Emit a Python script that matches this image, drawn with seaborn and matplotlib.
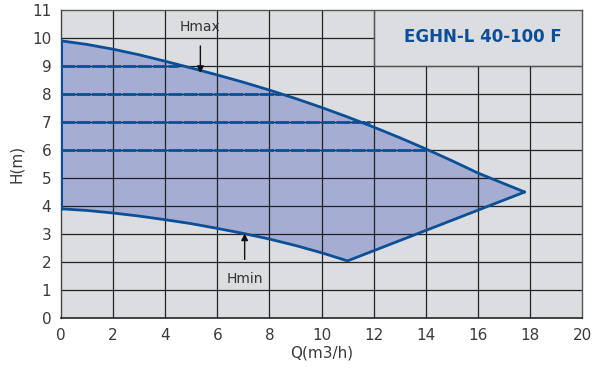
import numpy as np
import pandas as pd
import matplotlib
matplotlib.use("Agg")
import matplotlib.pyplot as plt
import seaborn as sns

# Data
hmax_q = [0, 1, 2, 3, 4, 5, 6, 7, 8, 9, 10, 11, 12, 13, 14, 15, 16, 17, 17.8]
hmax_h = [9.9, 9.77, 9.6, 9.4, 9.17, 8.93, 8.68, 8.42, 8.14, 7.84, 7.52, 7.18, 6.82, 6.44, 6.04, 5.62, 5.18, 4.8, 4.5]
hmin_q = [0, 1, 2, 3, 4, 5, 6, 7, 8, 9, 10, 11, 17.8]
hmin_h = [3.9, 3.84, 3.75, 3.64, 3.51, 3.37, 3.2, 3.02, 2.82, 2.59, 2.33, 2.04, 4.5]
speed_h = [9, 8, 7, 6]
speed_qend = [4.5, 8.45, 11.85, 14.05]
x_ticks = [0, 2, 4, 6, 8, 10, 12, 14, 16, 18, 20]
y_ticks = [0, 1, 2, 3, 4, 5, 6, 7, 8, 9, 10, 11]
title = "EGHN-L 40-100 F"

sns.set_theme(style="white")
plt.rcParams['font.family'] = ['DejaVu Sans']

blue = "#0b4f96"
fill = "#a6add3"
bg = "#dcdde0"
tick_col = "#3a3a3a"

fig = plt.figure(figsize=(5.93, 3.76), dpi=100)
ax = fig.add_axes([61/593, 1-318/376, (582-61)/593, (318-10)/376])
ax.set_facecolor(bg)
ax.set_xlim(0, 20)
ax.set_ylim(0, 11)

# grid lines
for x in x_ticks[1:-1]:
    ymax = 9 if x > 12 else 11
    ax.plot([x, x], [0, ymax], color="#222222", lw=0.9, zorder=2.5)
for y in y_ticks[1:-1]:
    xmax = 12 if y > 9 else 20
    ax.plot([0, xmax], [y, y], color="#222222", lw=0.9, zorder=2.5)
ax.plot([12, 12], [9, 11], color="#555555", lw=0.9, zorder=2.5)
ax.plot([12, 20], [9, 9], color="#555555", lw=0.9, zorder=2.5)

# polygon area
poly_q = list(hmax_q) + list(hmin_q[::-1])
poly_h = list(hmax_h) + list(hmin_h[::-1])
ax.fill(poly_q, poly_h, color=fill, zorder=2, lw=0)

df_max = pd.DataFrame({"Q": hmax_q, "H": hmax_h})
df_min = pd.DataFrame({"Q": hmin_q, "H": hmin_h})
sns.lineplot(data=df_max, x="Q", y="H", ax=ax, color=blue, lw=2, sort=False, zorder=4)
sns.lineplot(data=df_min, x="Q", y="H", ax=ax, color=blue, lw=2, sort=False, zorder=4)
ax.plot([0, 0], [hmin_h[0], hmax_h[0]], color=blue, lw=2.2, zorder=4)

for h, qe in zip(speed_h, speed_qend):
    ax.plot([0, qe], [h, h], color=blue, lw=2, ls=(0, (5, 0.5)), zorder=3)

# annotations
ax.annotate("Hmax", xy=(5.35, 8.75), xytext=(5.35, 10.38), ha="center", va="center",
            fontsize=10, color="#333333",
            arrowprops=dict(arrowstyle="-|>", color="#111111", lw=1, mutation_scale=10,
                            shrinkA=6, shrinkB=0), zorder=5)
ax.annotate("Hmin", xy=(7.05, 3.02), xytext=(7.05, 1.38), ha="center", va="center",
            fontsize=10, color="#333333",
            arrowprops=dict(arrowstyle="-|>", color="#111111", lw=1, mutation_scale=10,
                            shrinkA=7, shrinkB=0), zorder=5)

ax.text(16.2, 10.03, title, ha="center", va="center", fontsize=12,
        fontweight="heavy", color=blue, zorder=5)

ax.set_xticks(x_ticks)
ax.set_yticks(y_ticks)
ax.tick_params(axis="both", length=0, labelsize=11, colors=tick_col, pad=7)
ax.set_xlabel("Q(m3/h)", fontsize=11, color=tick_col, labelpad=2)
ax.set_ylabel("H(m)", fontsize=11, color=tick_col, labelpad=6)

for side in ["top", "right"]:
    ax.spines[side].set_color("#555555")
    ax.spines[side].set_linewidth(1)
ax.spines["bottom"].set_color("#222222")
ax.spines["bottom"].set_linewidth(1.2)
ax.spines["left"].set_color("#444444")
ax.spines["left"].set_linewidth(1)

fig.savefig("out.png", dpi=100)
